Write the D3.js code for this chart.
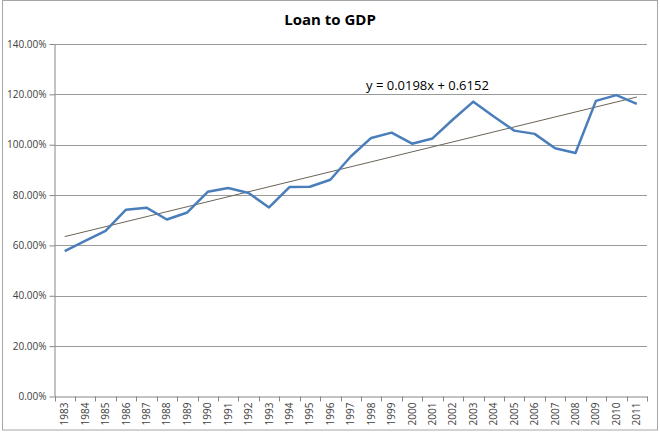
<!DOCTYPE html>
<html><head><meta charset="utf-8">
<script src="https://cdn.jsdelivr.net/npm/d3@7"></script>
<style>body{margin:0;background:#fff}svg{display:block}</style>
</head><body><svg id="c" width="660" height="436"></svg>
<script>
const years = ["1983","1984","1985","1986","1987","1988","1989","1990","1991","1992","1993","1994","1995","1996","1997","1998","1999","2000","2001","2002","2003","2004","2005","2006","2007","2008","2009","2010","2011"];
const loanToGdp = [0.577,0.618,0.658,0.742,0.750,0.703,0.731,0.813,0.828,0.808,0.751,0.832,0.833,0.861,0.953,1.027,1.048,1.004,1.025,1.100,1.171,1.112,1.056,1.043,0.986,0.967,1.174,1.197,1.162];
const yTicks = [0,0.2,0.4,0.6,0.8,1.0,1.2,1.4];
const trendSlope = 0.0198, trendIntercept = 0.6152;
const titleText = "Loan to GDP";
const eqText = "y = 0.0198x + 0.6152";

const svg = d3.select("#c");
const L = 54.5, R = 647, T = 44, B = 396.5;
svg.append("rect").attr("x",2.5).attr("y",0.5).attr("width",655).attr("height",429.5)
  .attr("fill","#fff").attr("stroke","#a6a6a6").attr("stroke-width",1);

const x = d3.scaleBand().domain(years).range([L,R]);
const y = d3.scaleLinear().domain([0,1.4]).range([B,T]);

// gridlines
svg.append("g").selectAll("line").data(yTicks.slice(1)).join("line")
  .attr("x1",L).attr("x2",R).attr("y1",d=>Math.round(y(d))+0.5).attr("y2",d=>Math.round(y(d))+0.5)
  .attr("stroke","#9a9a9a").attr("stroke-width",1);

// y axis
const yAxis = svg.append("g").attr("transform",`translate(${L},0)`)
  .call(d3.axisLeft(y).tickValues(yTicks).tickFormat(d=>(d*100).toFixed(2)+"%").tickSize(5).tickSizeOuter(0));
yAxis.select(".domain").attr("stroke","#868686");
yAxis.selectAll(".tick line").attr("stroke","#868686");
yAxis.selectAll(".tick text").attr("font-family","'Open Sans', 'Liberation Sans', sans-serif").attr("font-size",10).attr("fill","#404040").attr("x",-8);

// x axis
const xAxis = svg.append("g").attr("transform",`translate(0,${B})`)
  .call(d3.axisBottom(x).tickSize(0).tickSizeOuter(0));
xAxis.select(".domain").attr("stroke","#868686");
xAxis.selectAll(".tick text").attr("font-family","'Open Sans', 'Liberation Sans', sans-serif").attr("font-size",10).attr("fill","#404040")
  .attr("transform","rotate(-90)").attr("text-anchor","end").attr("x",-6).attr("y",0).attr("dy","0.35em");
// tick marks between categories
const bounds = years.map(d=>x(d)).concat([R]);
xAxis.append("g").selectAll("line").data(bounds).join("line")
  .attr("x1",d=>Math.round(d)+0.5).attr("x2",d=>Math.round(d)+0.5).attr("y1",0).attr("y2",5).attr("stroke","#868686");

const cx = d => x(d) + x.bandwidth()/2;

// trendline
const trend = [1, years.length].map(i => ({yr: years[i-1], v: trendSlope*i + trendIntercept}));
svg.append("line").attr("x1",cx(trend[0].yr)).attr("y1",y(trend[0].v)).attr("x2",cx(trend[1].yr)).attr("y2",y(trend[1].v))
  .attr("stroke","#6b6356").attr("stroke-width",1);

// series
svg.append("path").datum(years.map((d,i)=>[d,loanToGdp[i]]))
  .attr("d", d3.line().x(d=>cx(d[0])).y(d=>y(d[1])))
  .attr("fill","none").attr("stroke","#4a7ebb").attr("stroke-width",2.5).attr("stroke-linejoin","round");

// title
svg.append("text").attr("x",330).attr("y",25).attr("text-anchor","middle")
  .attr("font-family","'Open Sans', 'Liberation Sans', sans-serif").attr("font-weight","bold").attr("font-size",15).attr("fill","#000").text(titleText);

// equation
svg.append("text").attr("x",366).attr("y",90)
  .attr("font-family","'Open Sans', 'Liberation Sans', sans-serif").attr("font-size",13).attr("fill","#000").text(eqText);
</script></body></html>
